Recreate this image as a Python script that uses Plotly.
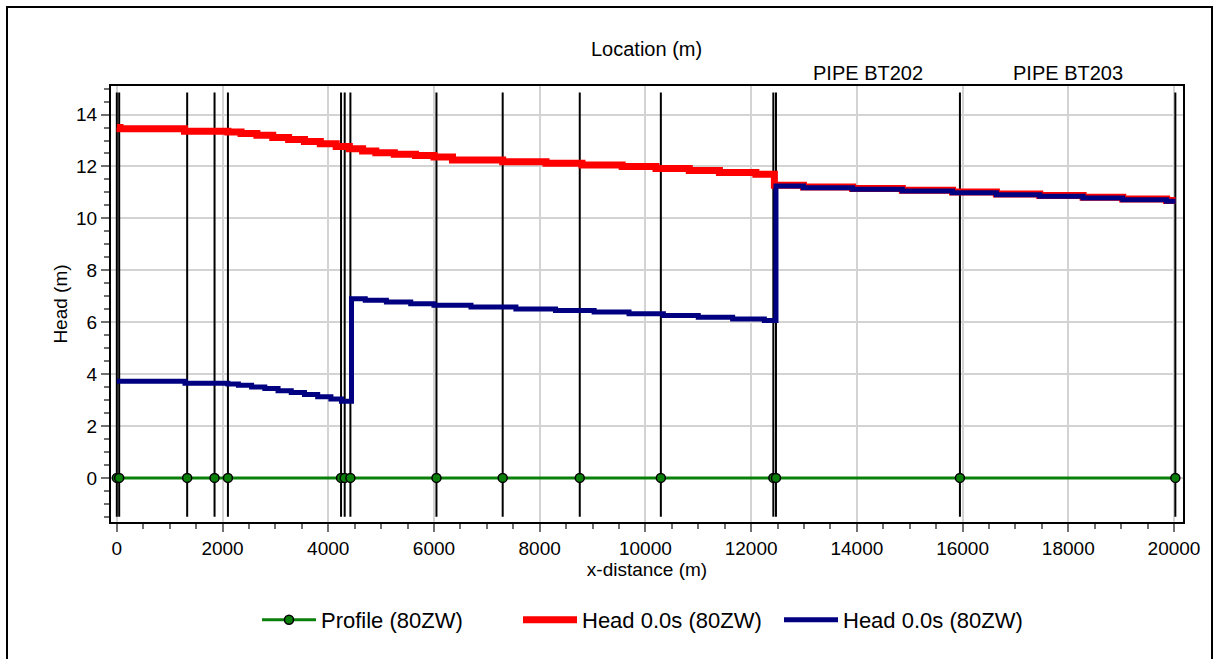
import plotly.graph_objects as go

# ---------------- data ----------------
node_x = [0, 45, 1331, 1849, 2102, 4242, 4311, 4419, 6047, 7300, 8758,
          10292, 12420, 12470, 15950, 20025]
profile_y = [0] * len(node_x)

red_x = [0, 60, 1280, 2100, 2350, 2650, 2950, 3250, 3550, 3850, 4150, 4400,
         4650, 4900, 5250, 5650, 6000, 6350, 7300, 8120, 8800, 9560, 10200,
         10830, 11400, 12090, 12440, 12990, 13920, 14860, 15810, 16640, 17460,
         18280, 19030, 19860, 20030]
red_y = [13.50, 13.45, 13.36, 13.33, 13.27, 13.20, 13.12, 13.04, 12.96, 12.87,
         12.77, 12.68, 12.60, 12.53, 12.47, 12.42, 12.36, 12.25, 12.18, 12.12,
         12.06, 12.00, 11.92, 11.84, 11.77, 11.70, 11.28, 11.21, 11.15, 11.08,
         11.02, 10.94, 10.88, 10.81, 10.75, 10.69, 10.69]

blue_x = [0, 1290, 2100, 2300, 2550, 2800, 3050, 3300, 3550, 3800, 4050, 4250,
          4440, 4700, 5100, 5560, 6000, 6700, 7550, 8300, 9030, 9690, 10340,
          11000, 11650, 12250, 12470, 12990, 13920, 14860, 15810, 16640, 17460,
          18280, 19030, 19860, 20030]
blue_y = [3.72, 3.65, 3.62, 3.57, 3.50, 3.44, 3.36, 3.29, 3.21, 3.13, 3.04,
          2.95, 6.90, 6.84, 6.78, 6.71, 6.65, 6.58, 6.51, 6.45, 6.39, 6.32,
          6.26, 6.19, 6.12, 6.06, 11.25, 11.18, 11.12, 11.05, 10.99, 10.91,
          10.85, 10.78, 10.72, 10.66, 10.66]

pipe_labels = ["PIPE BT202", "PIPE BT203"]
pipe_label_x = [14210, 17990]

node_line_bottom = -1.5
node_line_top = 14.85

FONT = "Arial, 'Liberation Sans', sans-serif"

# ---------------- figure ----------------
fig = go.Figure()

# node vertical lines
vx, vy = [], []
for n in node_x:
    vx += [n, n, None]
    vy += [node_line_bottom, node_line_top, None]
fig.add_trace(go.Scatter(x=vx, y=vy, mode="lines",
                         line=dict(color="black", width=2),
                         showlegend=False, hoverinfo="skip"))

fig.add_trace(go.Scatter(x=node_x, y=profile_y, mode="lines+markers",
                         name="Profile (80ZW)",
                         line=dict(color="#0A800A", width=3),
                         marker=dict(size=9, color="#0A800A",
                                     line=dict(color="black", width=1.5))))

fig.add_trace(go.Scatter(x=red_x, y=red_y, mode="lines", line_shape="hv",
                         name="Head 0.0s (80ZW)",
                         line=dict(color="#FF0000", width=7)))

fig.add_trace(go.Scatter(x=blue_x, y=blue_y, mode="lines", line_shape="hv",
                         name="Head 0.0s (80ZW)",
                         line=dict(color="#000080", width=5)))

# plot area: left 111, right 1183, top 86, bottom 522  (1219 x 659)
W, H = 1219, 659
L, R, T, B = 111, 36, 86, 137
pw, ph = W - L - R, H - T - B


def px_x(p):
    return (p - L) / pw


def px_y(p):
    return (H - B - p) / ph


fig.update_layout(
    width=W, height=H,
    margin=dict(l=L, r=R, t=T, b=B, autoexpand=False),
    paper_bgcolor="white", plot_bgcolor="white",
    font=dict(family=FONT, size=19, color="black"),
    legend=dict(orientation="h", x=px_x(257), xanchor="left",
                y=px_y(620), yanchor="middle",
                entrywidth=192, entrywidthmode="pixels",
                font=dict(size=22), itemwidth=54, tracegroupgap=0),
    shapes=[dict(type="rect", xref="paper", yref="paper",
                 x0=px_x(7), x1=px_x(1212), y0=px_y(664), y1=px_y(7),
                 line=dict(color="black", width=2), layer="below")],
    annotations=[
        dict(text="Location (m)", xref="paper", yref="paper",
             x=px_x(646), y=px_y(49), showarrow=False,
             font=dict(size=20), xanchor="center", yanchor="middle"),
    ] + [
        dict(text=t, xref="x", yref="paper", x=xv, y=px_y(73),
             showarrow=False, font=dict(size=20),
             xanchor="center", yanchor="middle")
        for t, xv in zip(pipe_labels, pipe_label_x)
    ],
)

fig.update_xaxes(
    range=[-110, 20170], dtick=2000, tick0=0, tickformat="d",
    showgrid=True, gridcolor="#D3D3D3", gridwidth=2,
    zeroline=False, showline=True, linecolor="black", linewidth=2,
    mirror=True, ticks="outside", ticklen=8, tickcolor="#707070",
    tickwidth=1.5,
    minor=dict(dtick=500, ticks="outside", ticklen=5, tickcolor="#707070",
               showgrid=False),
    tickfont=dict(size=19),
    title=dict(text="x-distance (m)", font=dict(size=19), standoff=4),
)
fig.update_yaxes(
    range=[-1.7, 15.1], dtick=2, tick0=0,
    showgrid=True, gridcolor="#D3D3D3", gridwidth=2,
    zeroline=False, showline=True, linecolor="black", linewidth=2,
    mirror=True, ticks="outside", ticklen=8, tickcolor="#707070",
    tickwidth=1.5,
    minor=dict(dtick=0.5, ticks="outside", ticklen=5, tickcolor="#707070",
               showgrid=False),
    tickfont=dict(size=19),
    title=dict(text="Head (m)", font=dict(size=19), standoff=3),
)

fig.write_html("out.html", config={"displayModeBar": False},
               post_script="document.body.style.margin='0px';")
